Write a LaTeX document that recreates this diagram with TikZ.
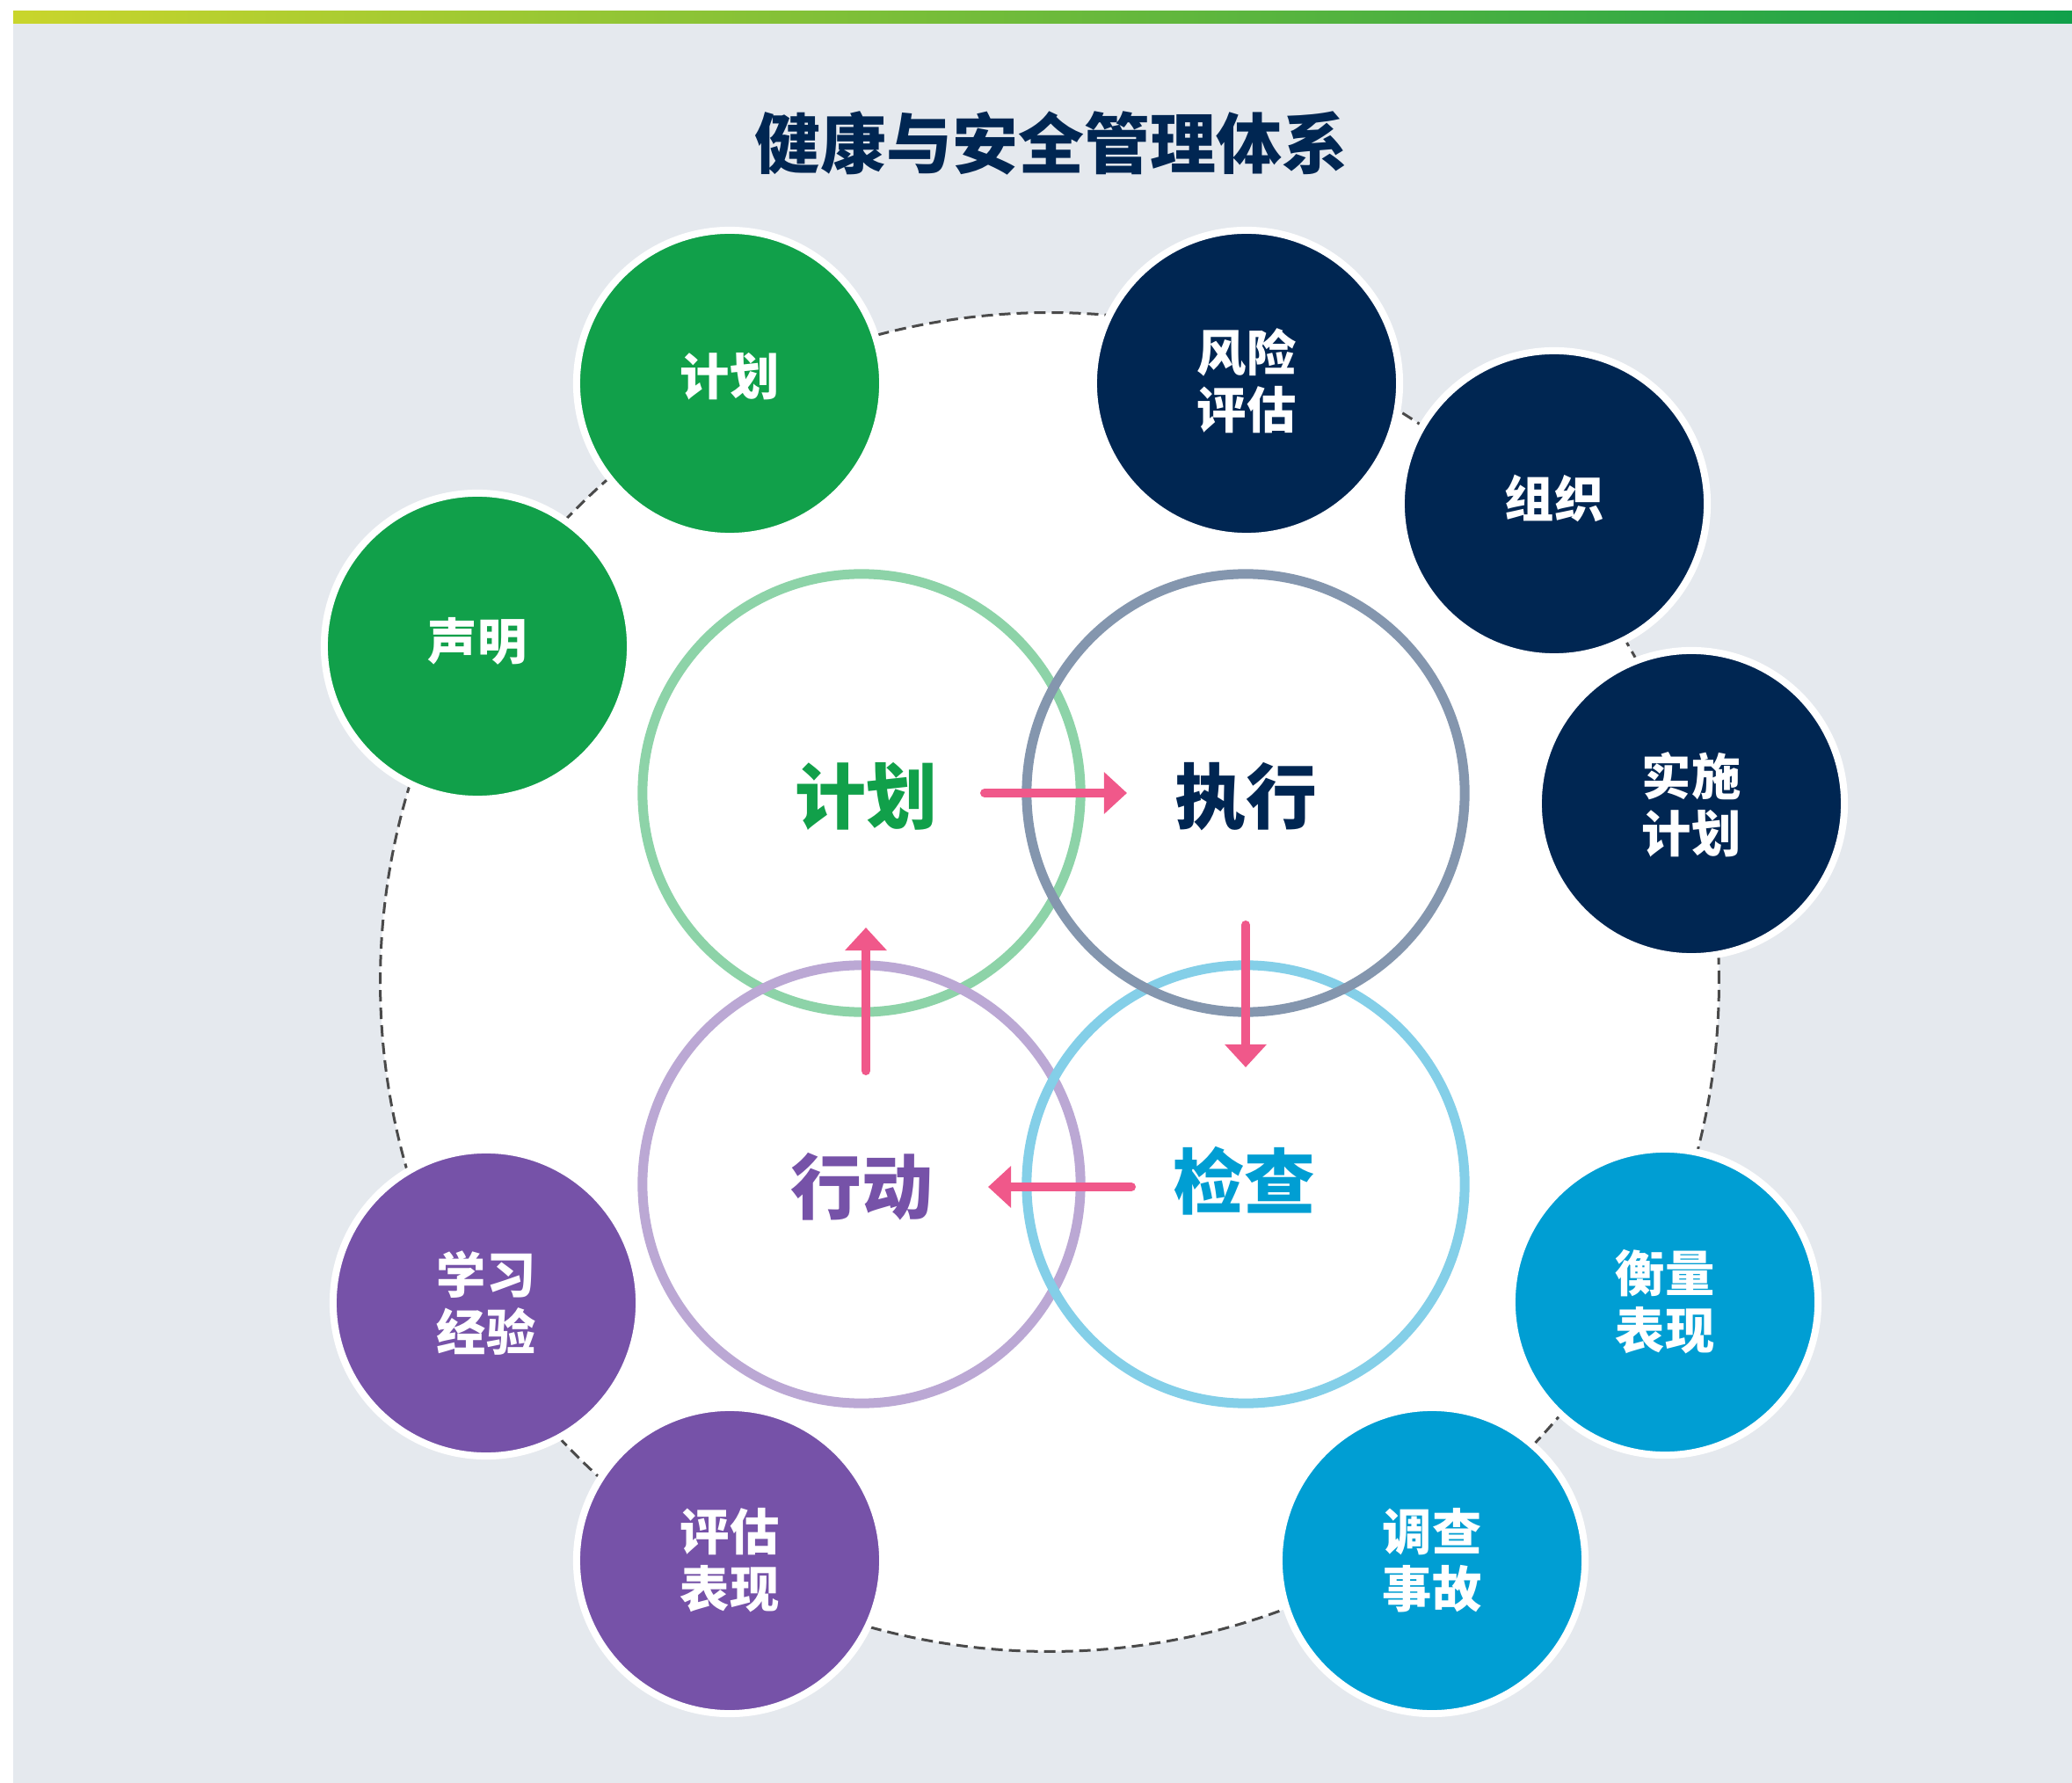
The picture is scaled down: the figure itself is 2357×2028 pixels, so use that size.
\documentclass[tikz,border=0pt]{standalone}
\usepackage{fontspec}
\newfontfamily\cjk{Noto Sans CJK SC}
\usetikzlibrary{arrows.meta}
\definecolor{panel}{HTML}{E5E9EE}
\definecolor{barL}{HTML}{C9D52C}
\definecolor{barR}{HTML}{11A04A}
\definecolor{cgreen}{HTML}{11A04A}
\definecolor{cnavy}{HTML}{002652}
\definecolor{cblue}{HTML}{009ED3}
\definecolor{cpurple}{HTML}{7652A8}
\definecolor{rgreen}{HTML}{8DD3A8}
\definecolor{rgrey}{HTML}{8496AE}
\definecolor{rpurple}{HTML}{BBA8D4}
\definecolor{rblue}{HTML}{84CFE8}
\definecolor{apink}{HTML}{F0588A}
\definecolor{dashc}{HTML}{4A4A4A}
\tikzset{
  hub/.style={circle, draw=dashc, fill=white, line width=0.03cm, dash pattern=on 0.13cm off 0.07cm, minimum size=15.22cm, inner sep=0pt},
  ring/.style={circle, draw=#1, line width=0.11cm, minimum size=4.98cm, inner sep=0pt},
  ringlabel/.style={font=\cjk\bfseries\fontsize{23}{27}\selectfont, text=#1, inner sep=0pt},
  outer/.style={circle, fill=#1, draw=white, line width=0.08cm, minimum size=3.48cm, inner sep=0pt},
  otext/.style={text=white, font=\cjk\bfseries\fontsize{16}{18.5}\selectfont, align=center, inner sep=0pt},
  flow/.style={draw=apink, line width=0.1cm, line cap=round, -{Triangle[width=0.46cm,length=0.26cm]}},
  title/.style={font=\cjk\bfseries\fontsize{21.3}{25}\selectfont, text=cnavy, inner sep=0pt}
}
\begin{document}
\begin{tikzpicture}[x=0.01cm, y=-0.01cm]
\useasboundingbox (0,0) rectangle (2357,2028);
\fill[white] (0,0) rectangle (2357,2028);
\fill[panel] (15,27) rectangle (2357,2028);
\shade[left color=barL, right color=barR] (15,13) rectangle (2357,27);

\node[title] (ttl) at (1196,163) {健康与安全管理体系};

\node[hub] (hub) at (1194,1117) {};

% rings
\node[ring=rgreen] (rplan) at (980,902) {};
\node[ring=rpurple] (ract) at (980,1347) {};
\node[ring=rblue] (rcheck) at (1417,1347) {};
\node[ring=rgrey] (rdo) at (1417,902) {};

\node[ringlabel=cgreen] (lplan) at (985,906) {计划};
\node[ringlabel=cnavy] (ldo) at (1417,906) {执行};
\node[ringlabel=cpurple] (lact) at (980,1350) {行动};
\node[ringlabel=cblue] (lcheck) at (1415,1343) {检查};

% arrow end points
\coordinate (a1s) at (1120,902);
\coordinate (a1e) at (1282,902);
\coordinate (a2s) at (1417,1052);
\coordinate (a2e) at (1417,1214);
\coordinate (a3s) at (1287,1350);
\coordinate (a3e) at (1124,1350);
\coordinate (a4s) at (985,1218);
\coordinate (a4e) at (985,1055);
\draw[flow] (a1s) -- (a1e);
\draw[flow] (a2s) -- (a2e);
\draw[flow] (a3s) -- (a3e);
\draw[flow] (a4s) -- (a4e);

% outer circles
\node[outer=cgreen] (o1) at (830,436) {};
\node[outer=cgreen] (o2) at (543,735) {};
\node[outer=cnavy] (o3) at (1418,436) {};
\node[outer=cnavy] (o4) at (1768,573) {};
\node[outer=cnavy] (o5) at (1924,914) {};
\node[outer=cblue] (o6) at (1894,1481) {};
\node[outer=cblue] (o7) at (1629,1775) {};
\node[outer=cpurple] (o8) at (830,1775) {};
\node[outer=cpurple] (o9) at (553,1482) {};

\node[otext] (t1) at ([yshift=0.08cm]o1) {计划};
\node[otext] (t2) at ([yshift=0.06cm]o2) {声明};
\node[otext] (t3) at ([yshift=0.03cm]o3) {风险\\评估};
\node[otext] (t4) at ([yshift=0.06cm]o4) {组织};
\node[otext] (t5) at ([yshift=-0.01cm]o5) {实施\\计划};
\node[otext] (t6) at (o6) {衡量\\表现};
\node[otext] (t7) at (o7) {调查\\事故};
\node[otext] (t8) at (o8) {评估\\表现};
\node[otext] (t9) at (o9) {学习\\经验};
\end{tikzpicture}
\end{document}
